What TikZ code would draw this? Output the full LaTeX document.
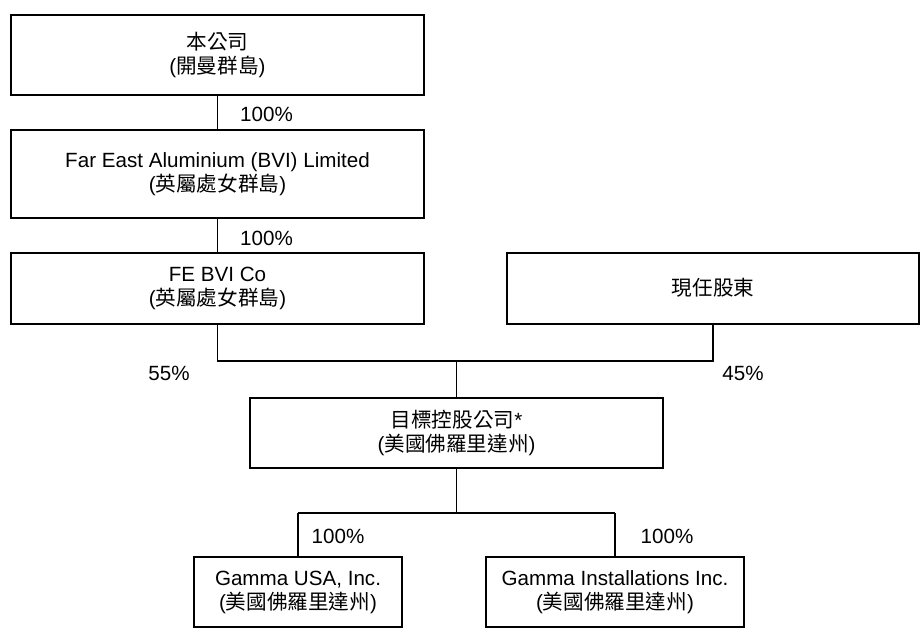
\documentclass[tikz,border=0pt]{standalone}
\usepackage{fontspec}
\setmainfont{Liberation Sans}
\newfontfamily\cjk{Noto Sans CJK TC}
\newcommand{\hanzi}[1]{{\cjk #1}}

\begin{document}
\begin{tikzpicture}
\tikzset{
company/.style={rectangle,draw=black,line width=1pt,align=center,text centered,
inner sep=0pt,font=\fontsize{10.3}{12}\selectfont},
link/.style={line width=0.65pt},
pct/.style={inner sep=0pt,font=\fontsize{10.3}{12}\selectfont},
}
\useasboundingbox (0,0) rectangle (460.5pt,-314.5pt);

\node [company, minimum width=206.5pt, minimum height=40pt] (ourco) at (108.75pt,-27.5pt) {\hanzi{本公司}\\(\hanzi{開曼群島})};
\node [company, minimum width=206.5pt, minimum height=44pt, node distance=59.5pt, below of=ourco] (feal) {Far East Aluminium (BVI) Limited\\(\hanzi{英屬處女群島})};
\node [company, minimum width=206.5pt, minimum height=35.5pt, node distance=57pt, below of=feal] (febvi) {FE BVI Co\\(\hanzi{英屬處女群島})};
\node [company, minimum width=206pt, minimum height=35.5pt, node distance=247.75pt, right of=febvi] (holders) {\hanzi{現任股東}};
\node [company, minimum width=206.5pt, minimum height=35pt, node distance=72.5pt, below of=febvi, xshift=119.5pt] (target) {\hanzi{目標控股公司}*\\(\hanzi{美國佛羅里達州})};
\node [company, minimum width=104pt, minimum height=35pt, node distance=79.5pt, below of=target, xshift=-79.25pt] (gusa) {Gamma USA, Inc.\\(\hanzi{美國佛羅里達州})};
\node [company, minimum width=129pt, minimum height=35pt, node distance=79.5pt, below of=target, xshift=79.25pt] (ginst) {Gamma Installations Inc.\\(\hanzi{美國佛羅里達州})};

\coordinate (upper bar) at (0,-180.5pt);
\coordinate (lower bar) at (0,-256.5pt);

\draw[link] (ourco) -- node[pct, pos=0.57, right=11pt] (own1) {100\%} (feal);
\draw[link] (feal) -- node[pct, pos=0.6, right=11pt] (own2) {100\%} (febvi);
\draw[link] (febvi) -- (febvi |- upper bar) -- (holders |- upper bar) -- (holders);
\draw[link] (target |- upper bar) -- (target);
\node[pct] (own55) at (84.5pt,-186.5pt) {55\%};
\node[pct] (own45) at (371.5pt,-186.5pt) {45\%};
\draw[link] (target) -- (target |- lower bar);
\draw[link] (gusa |- lower bar) -- (ginst |- lower bar);
\draw[link] (gusa |- lower bar) -- node[pct, pos=0.55, right=6.5pt] (own3) {100\%} (gusa);
\draw[link] (ginst |- lower bar) -- node[pct, pos=0.55, right=12.5pt] (own4) {100\%} (ginst);
\end{tikzpicture}
\end{document}
